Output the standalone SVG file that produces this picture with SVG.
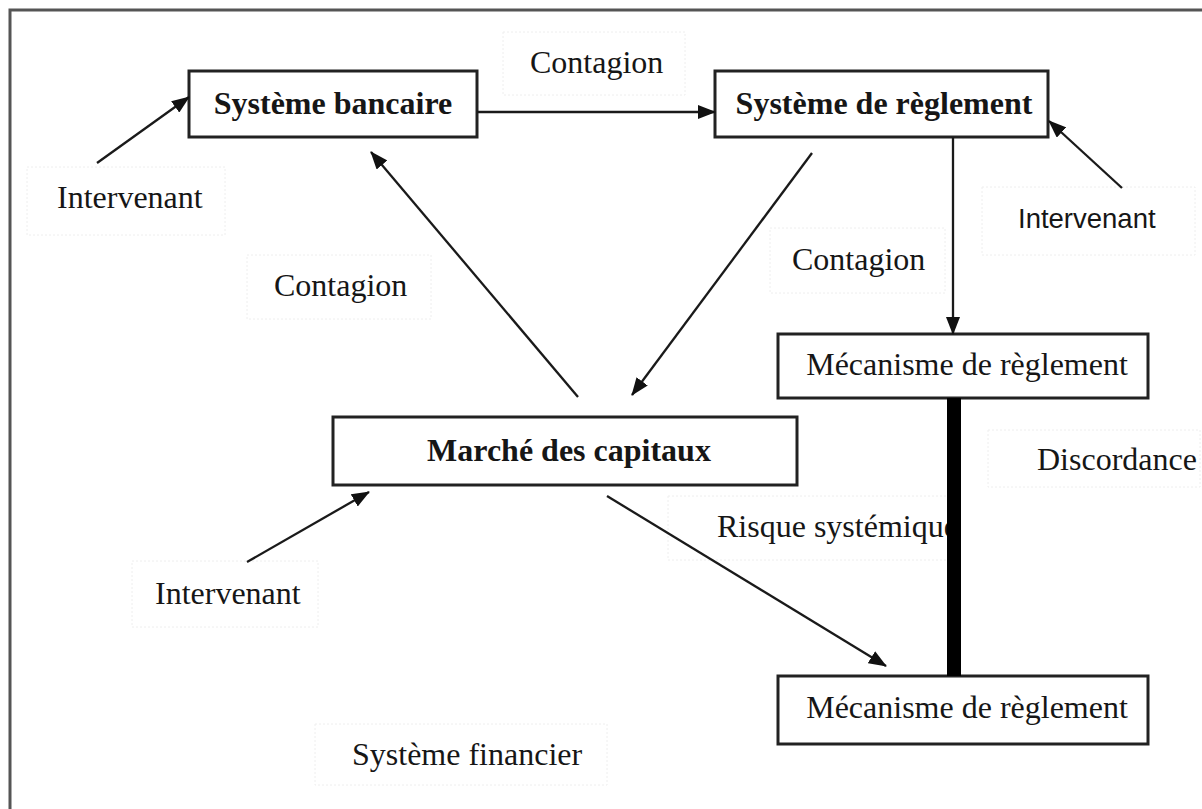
<svg xmlns="http://www.w3.org/2000/svg" width="1202" height="809" viewBox="0 0 1202 809">
<style>
.frame{fill:none;stroke:#555;stroke-width:3}
.box{fill:#fff;stroke:#222;stroke-width:3}
.lbl{fill:#fff;stroke:#eeeeee;stroke-width:1;stroke-dasharray:2 2}
.t{font-family:"Liberation Serif","Times New Roman",serif;font-size:32px;fill:#161616}
.b{font-weight:bold}
.s{font-family:"Liberation Sans",Arial,sans-serif;font-size:27.5px;fill:#161616}
.c{fill:none;stroke:#1a1a1a;stroke-width:2.3}
</style>
<defs>
<marker id="ah" markerUnits="userSpaceOnUse" markerWidth="18" markerHeight="14" refX="17" refY="7" orient="auto">
<path d="M0,0 L18,7 L0,14 z" fill="#111"/>
</marker>
</defs>
<rect class="frame" x="10" y="10" width="1194" height="820"/>

<g id="labels">
<g id="lbl-contagion-top"><rect class="lbl" x="503" y="32" width="182" height="63"/><text class="t" x="530" y="73">Contagion</text></g>
<g id="lbl-intervenant-tl"><rect class="lbl" x="27" y="167" width="198" height="68"/><text class="t" x="57" y="208">Intervenant</text></g>
<g id="lbl-intervenant-r"><rect class="lbl" x="982" y="187" width="213" height="68"/><text class="s" x="1018" y="228">Intervenant</text></g>
<g id="lbl-contagion-left"><rect class="lbl" x="247" y="255" width="184" height="64"/><text class="t" x="274" y="296">Contagion</text></g>
<g id="lbl-contagion-right"><rect class="lbl" x="770" y="228" width="175" height="65"/><text class="t" x="792" y="270">Contagion</text></g>
<g id="lbl-discordance"><rect class="lbl" x="988" y="430" width="212" height="57"/><text class="t" x="1037" y="470">Discordance</text></g>
<g id="lbl-risque"><rect class="lbl" x="668" y="496" width="287" height="64"/><text class="t" x="717" y="537">Risque systémique</text></g>
<g id="lbl-intervenant-bl"><rect class="lbl" x="132" y="561" width="186" height="66"/><text class="t" x="155" y="604">Intervenant</text></g>
<g id="lbl-systeme-financier"><rect class="lbl" x="315" y="724" width="292" height="61"/><text class="t" x="352" y="765">Système financier</text></g>
</g>

<g id="node-systeme-bancaire"><rect class="box" x="189" y="71" width="288" height="66"/><text class="t b" x="333" y="114" text-anchor="middle">Système bancaire</text></g>
<g id="node-systeme-reglement"><rect class="box" x="715" y="71" width="333" height="66"/><text class="t b" x="884" y="114" text-anchor="middle">Système de règlement</text></g>
<g id="node-marche"><rect class="box" x="333" y="417" width="464" height="68"/><text class="t b" x="569" y="461" text-anchor="middle">Marché des capitaux</text></g>
<g id="node-mecanisme-1"><rect class="box" x="778" y="334" width="370" height="64"/><text class="t" x="967" y="375" text-anchor="middle">Mécanisme de règlement</text></g>
<g id="node-mecanisme-2"><rect class="box" x="778" y="676" width="370" height="68"/><text class="t" x="967" y="718" text-anchor="middle">Mécanisme de règlement</text></g>

<g id="connectors">
<line class="c" x1="477" y1="112" x2="715" y2="112" marker-end="url(#ah)"/>
<line class="c" x1="97" y1="163" x2="189" y2="97" marker-end="url(#ah)"/>
<line class="c" x1="1122" y1="188" x2="1049" y2="121" marker-end="url(#ah)"/>
<line class="c" x1="578" y1="397" x2="371" y2="152" marker-end="url(#ah)"/>
<line class="c" x1="812" y1="153" x2="632" y2="395" marker-end="url(#ah)"/>
<line class="c" x1="953" y1="137" x2="953" y2="334" marker-end="url(#ah)"/>
<line class="c" x1="247" y1="562" x2="369" y2="492" marker-end="url(#ah)"/>
<line class="c" x1="607" y1="496" x2="886" y2="666" marker-end="url(#ah)"/>
<rect x="947" y="398" width="14" height="278" fill="#000"/>
</g>
</svg>
